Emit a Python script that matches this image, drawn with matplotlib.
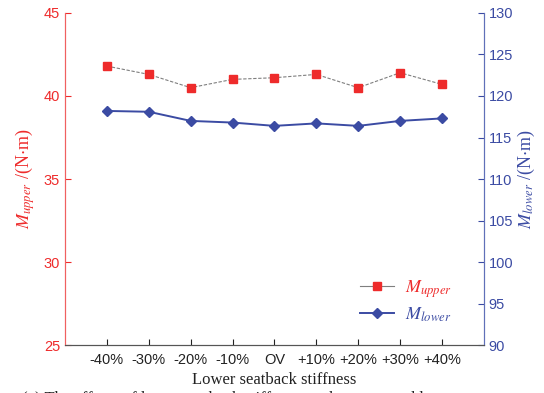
import matplotlib
matplotlib.use("Agg")
import matplotlib.pyplot as plt
from matplotlib.lines import Line2D

plt.rcParams["mathtext.fontset"] = "stix"
plt.rcParams["font.family"] = "Liberation Sans"

# data
categories = ["-40%", "-30%", "-20%", "-10%", "OV", "+10%", "+20%", "+30%", "+40%"]
m_upper = [41.8, 41.3, 40.5, 41.0, 41.1, 41.3, 40.5, 41.4, 40.7]
m_lower = [118.2, 118.1, 117.0, 116.8, 116.4, 116.7, 116.4, 117.0, 117.3]

red = "#ee2b2b"
blue = "#3b4ba3"

fig = plt.figure(figsize=(5.44, 3.93), dpi=100)
ax = fig.add_axes([0.1195, 0.122, 0.770, 0.845])
ax2 = ax.twinx()

x = range(len(categories))
ax.plot(x, m_upper, color="#7f7f7f", lw=0.8, ls=(0, (3, 1.5)),
        marker="s", ms=5.5, mfc=red, mec=red, zorder=3)
ax2.plot(x, m_lower, color=blue, lw=1.4,
         marker="D", ms=5.5, mfc=blue, mec=blue, zorder=3)

ax.set_xlim(-1, 9)
ax.set_ylim(25, 45)
ax.set_yticks([25, 30, 35, 40, 45])
ax2.set_ylim(90, 130)
ax2.set_yticks(range(90, 131, 5))

ax.set_xticks(list(x))
ax.set_xticklabels(categories)

ax.tick_params(axis="x", direction="in", length=4, colors="#222222",
               labelsize=10.5, pad=6)
ax.tick_params(axis="y", direction="in", length=4, colors=red,
               labelsize=10.5, labelcolor=red)
ax2.tick_params(axis="y", direction="in", length=4, colors=blue,
                labelsize=10.5, labelcolor=blue)

for a in (ax, ax2):
    a.spines["top"].set_visible(False)
    a.spines["left"].set_color("#f06060")
    a.spines["right"].set_color("#6070b8")
    a.spines["bottom"].set_color("#555555")

ax.set_xlabel("Lower seatback stiffness", family="Liberation Serif",
              fontsize=12, color="#222222", labelpad=3)
ax.set_ylabel(r"$M_{upper}$ /(N$\cdot$m)", family="Liberation Serif",
              fontsize=13, color=red, labelpad=5)
ax2.set_ylabel(r"$M_{lower}$ /(N$\cdot$m)", family="Liberation Serif",
               fontsize=13, color=blue, labelpad=2, rotation=90)

handles = [
    Line2D([], [], color="#7f7f7f", lw=0.8, marker="s", ms=5.5,
           mfc=red, mec=red),
    Line2D([], [], color=blue, lw=1.4, marker="D", ms=5.5,
           mfc=blue, mec=blue),
]
leg = ax.legend(handles, [r"$M_{upper}$", r"$M_{lower}$"], frameon=False,
                loc="lower right", bbox_to_anchor=(0.963, 0.015),
                prop={"size": 13}, handlelength=1.9, handletextpad=0.6,
                labelspacing=0.3)
for t, c in zip(leg.get_texts(), [red, blue]):
    t.set_color(c)

# caption cut off at the bottom of the image
fig.text(0.5, -0.014, "(a) The effects of lower seatback stiffness on the upper and lower moments",
         family="Liberation Serif", fontsize=12, color="#222222",
         ha="center", va="center")

fig.savefig("out.png", dpi=100)
